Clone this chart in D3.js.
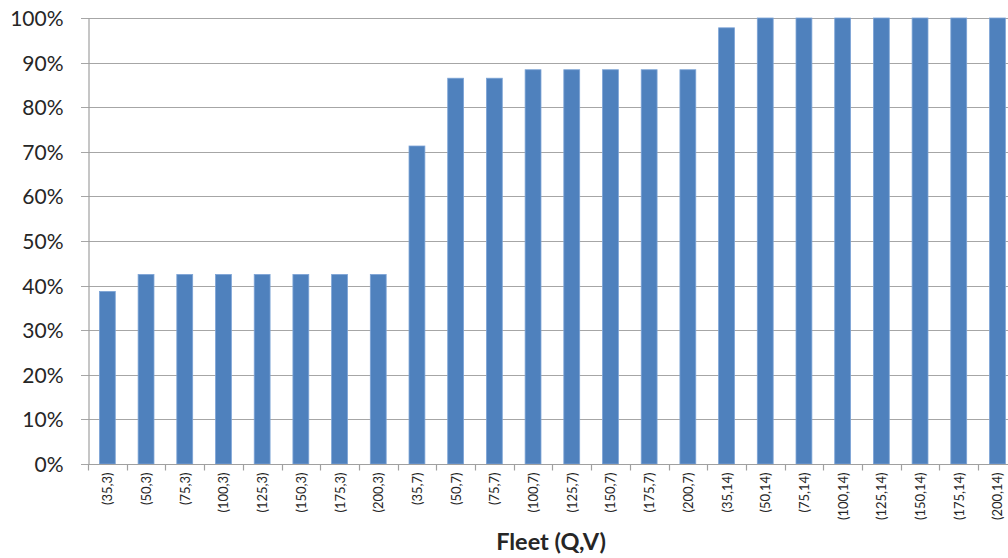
<!DOCTYPE html>
<html>
<head>
<meta charset="utf-8">
<script src="https://d3js.org/d3.v7.min.js"></script>
<style>
  html, body { margin: 0; padding: 0; background: #fff; }
  svg { display: block; }
  text { font-family: Lato, "Open Sans", sans-serif; fill: #262626; }
</style>
</head>
<body>
<svg id="chart" width="1008" height="558"></svg>
<script>
// Fleet configurations (Q,V) and their share values
const categories = [
  "(35,3)", "(50,3)", "(75,3)", "(100,3)", "(125,3)", "(150,3)", "(175,3)", "(200,3)",
  "(35,7)", "(50,7)", "(75,7)", "(100,7)", "(125,7)", "(150,7)", "(175,7)", "(200,7)",
  "(35,14)", "(50,14)", "(75,14)", "(100,14)", "(125,14)", "(150,14)", "(175,14)", "(200,14)"
];
const values = [
  0.387, 0.425, 0.425, 0.425, 0.425, 0.425, 0.425, 0.425,
  0.713, 0.865, 0.865, 0.884, 0.884, 0.884, 0.884, 0.884,
  0.978, 1.0, 1.0, 1.0, 1.0, 1.0, 1.0, 1.0
];
const yTicks = [0, 0.1, 0.2, 0.3, 0.4, 0.5, 0.6, 0.7, 0.8, 0.9, 1.0];
const xTitle = "Fleet (Q,V)";

(function draw() {
  const svg = d3.select("#chart");
  const plotLeft = 88, plotTop = 18, plotBottom = 464, bandW = 38.7;
  const plotRight = plotLeft + bandW * categories.length;

  const x = d3.scaleBand().domain(categories).range([plotLeft, plotRight]).paddingInner(0.59).paddingOuter(0.295);
  const y = d3.scaleLinear().domain([0, 1]).range([plotBottom, plotTop]);

  // horizontal gridlines
  svg.append("g")
    .selectAll("line")
    .data(yTicks)
    .join("line")
    .attr("x1", plotLeft - 7).attr("x2", plotRight)
    .attr("y1", d => Math.round(y(d)) + 0.5).attr("y2", d => Math.round(y(d)) + 0.5)
    .attr("stroke", "#a6a6a6").attr("stroke-width", 1.2);

  // bars
  svg.append("g")
    .selectAll("rect")
    .data(categories)
    .join("rect")
    .attr("x", d => x(d))
    .attr("width", x.bandwidth())
    .attr("y", (d, i) => y(values[i]))
    .attr("height", (d, i) => plotBottom - y(values[i]))
    .attr("fill", "#4f81bd")
    .attr("stroke", "#7da4d6").attr("stroke-width", 0.8);

  // y axis
  const yAxis = svg.append("g")
    .attr("transform", `translate(${plotLeft + 0.5},0)`)
    .call(d3.axisLeft(y).tickValues(yTicks).tickFormat(d3.format(".0%")).tickSize(0).tickPadding(25));
  yAxis.select(".domain").attr("stroke", "#a0a0a0").attr("stroke-width", 1.2);
  yAxis.selectAll("text").style("font-size", "21px").style("font-family", "Lato, sans-serif").attr("fill", "#262626").attr("dy", "0.36em");

  // x axis with ticks on the band boundaries
  const xg = svg.append("g").attr("transform", `translate(0,${Math.round(plotBottom) + 0.5})`);
  xg.append("line").attr("x1", plotLeft).attr("x2", plotRight).attr("stroke", "#a0a0a0").attr("stroke-width", 1.2);
  xg.selectAll("line.tk")
    .data(d3.range(categories.length + 1))
    .join("line").attr("class", "tk")
    .attr("x1", i => Math.round(plotLeft + i * bandW) + 0.5).attr("x2", i => Math.round(plotLeft + i * bandW) + 0.5)
    .attr("y1", 0).attr("y2", 6)
    .attr("stroke", "#a0a0a0").attr("stroke-width", 1.2);
  xg.selectAll("text")
    .data(categories)
    .join("text")
    .attr("transform", d => `translate(${x(d) + x.bandwidth() / 2 + 5},8) rotate(-90)`)
    .attr("text-anchor", "end")
    .style("font-size", "13px")
    .text(d => d);

  // x axis title
  svg.append("text")
    .attr("x", 551).attr("y", 550)
    .attr("text-anchor", "middle")
    .style("font-size", "23.5px").style("font-weight", "bold")
    .text(xTitle);
})();
</script>
</body>
</html>
